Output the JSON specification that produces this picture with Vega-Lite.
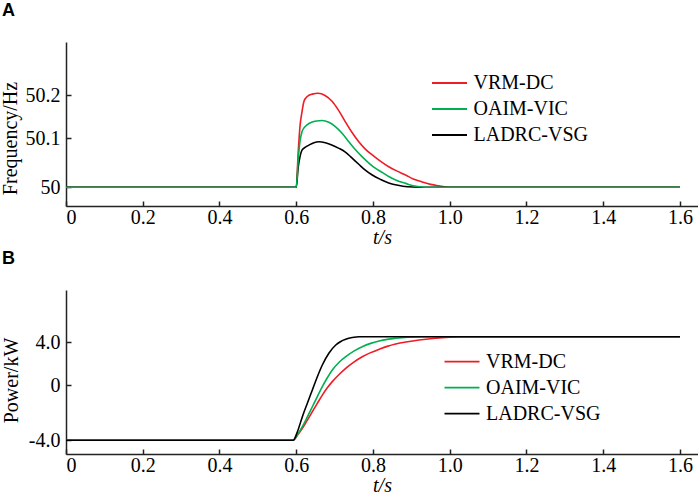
{
  "$schema": "https://vega.github.io/schema/vega-lite/v6.json",
  "description": "Frequency and power response of three VSG control methods",
  "background": "white",
  "padding": {"top": 2, "left": 0, "right": 0, "bottom": 0},
  "bounds": "flush",
  "spacing": 84,
  "datasets": {
    "freq": [
      {"t": 0, "f": 50, "method": "VRM-DC"},
      {"t": 0.6, "f": 50, "method": "VRM-DC"},
      {"t": 0.605, "f": 50.07, "method": "VRM-DC"},
      {"t": 0.61, "f": 50.13, "method": "VRM-DC"},
      {"t": 0.615, "f": 50.161, "method": "VRM-DC"},
      {"t": 0.62, "f": 50.185, "method": "VRM-DC"},
      {"t": 0.628, "f": 50.196, "method": "VRM-DC"},
      {"t": 0.642, "f": 50.202, "method": "VRM-DC"},
      {"t": 0.657, "f": 50.204, "method": "VRM-DC"},
      {"t": 0.675, "f": 50.199, "method": "VRM-DC"},
      {"t": 0.694, "f": 50.185, "method": "VRM-DC"},
      {"t": 0.71, "f": 50.165, "method": "VRM-DC"},
      {"t": 0.728, "f": 50.138, "method": "VRM-DC"},
      {"t": 0.745, "f": 50.114, "method": "VRM-DC"},
      {"t": 0.763, "f": 50.093, "method": "VRM-DC"},
      {"t": 0.78, "f": 50.078, "method": "VRM-DC"},
      {"t": 0.798, "f": 50.066, "method": "VRM-DC"},
      {"t": 0.82, "f": 50.053, "method": "VRM-DC"},
      {"t": 0.841, "f": 50.042, "method": "VRM-DC"},
      {"t": 0.863, "f": 50.033, "method": "VRM-DC"},
      {"t": 0.885, "f": 50.025, "method": "VRM-DC"},
      {"t": 0.905, "f": 50.017, "method": "VRM-DC"},
      {"t": 0.928, "f": 50.011, "method": "VRM-DC"},
      {"t": 0.95, "f": 50.006, "method": "VRM-DC"},
      {"t": 0.971, "f": 50.003, "method": "VRM-DC"},
      {"t": 1.0, "f": 50, "method": "VRM-DC"},
      {"t": 1.6, "f": 50, "method": "VRM-DC"},
      {"t": 0, "f": 50, "method": "LADRC-VSG"},
      {"t": 0.6, "f": 50, "method": "LADRC-VSG"},
      {"t": 0.605, "f": 50.04, "method": "LADRC-VSG"},
      {"t": 0.61, "f": 50.063, "method": "LADRC-VSG"},
      {"t": 0.615, "f": 50.076, "method": "LADRC-VSG"},
      {"t": 0.624, "f": 50.082, "method": "LADRC-VSG"},
      {"t": 0.633, "f": 50.086, "method": "LADRC-VSG"},
      {"t": 0.646, "f": 50.091, "method": "LADRC-VSG"},
      {"t": 0.659, "f": 50.093, "method": "LADRC-VSG"},
      {"t": 0.676, "f": 50.091, "method": "LADRC-VSG"},
      {"t": 0.694, "f": 50.086, "method": "LADRC-VSG"},
      {"t": 0.71, "f": 50.08, "method": "LADRC-VSG"},
      {"t": 0.728, "f": 50.072, "method": "LADRC-VSG"},
      {"t": 0.745, "f": 50.06, "method": "LADRC-VSG"},
      {"t": 0.763, "f": 50.047, "method": "LADRC-VSG"},
      {"t": 0.78, "f": 50.035, "method": "LADRC-VSG"},
      {"t": 0.798, "f": 50.025, "method": "LADRC-VSG"},
      {"t": 0.82, "f": 50.016, "method": "LADRC-VSG"},
      {"t": 0.841, "f": 50.009, "method": "LADRC-VSG"},
      {"t": 0.865, "f": 50.004, "method": "LADRC-VSG"},
      {"t": 0.89, "f": 50.001, "method": "LADRC-VSG"},
      {"t": 0.92, "f": 50, "method": "LADRC-VSG"},
      {"t": 1.6, "f": 50, "method": "LADRC-VSG"},
      {"t": 0, "f": 50, "method": "OAIM-VIC"},
      {"t": 0.6, "f": 50, "method": "OAIM-VIC"},
      {"t": 0.605, "f": 50.055, "method": "OAIM-VIC"},
      {"t": 0.61, "f": 50.095, "method": "OAIM-VIC"},
      {"t": 0.615, "f": 50.115, "method": "OAIM-VIC"},
      {"t": 0.621, "f": 50.125, "method": "OAIM-VIC"},
      {"t": 0.628, "f": 50.131, "method": "OAIM-VIC"},
      {"t": 0.64, "f": 50.137, "method": "OAIM-VIC"},
      {"t": 0.653, "f": 50.14, "method": "OAIM-VIC"},
      {"t": 0.667, "f": 50.141, "method": "OAIM-VIC"},
      {"t": 0.685, "f": 50.137, "method": "OAIM-VIC"},
      {"t": 0.702, "f": 50.127, "method": "OAIM-VIC"},
      {"t": 0.72, "f": 50.111, "method": "OAIM-VIC"},
      {"t": 0.737, "f": 50.093, "method": "OAIM-VIC"},
      {"t": 0.755, "f": 50.076, "method": "OAIM-VIC"},
      {"t": 0.772, "f": 50.062, "method": "OAIM-VIC"},
      {"t": 0.79, "f": 50.049, "method": "OAIM-VIC"},
      {"t": 0.806, "f": 50.039, "method": "OAIM-VIC"},
      {"t": 0.825, "f": 50.03, "method": "OAIM-VIC"},
      {"t": 0.841, "f": 50.022, "method": "OAIM-VIC"},
      {"t": 0.862, "f": 50.014, "method": "OAIM-VIC"},
      {"t": 0.885, "f": 50.008, "method": "OAIM-VIC"},
      {"t": 0.905, "f": 50.003, "method": "OAIM-VIC"},
      {"t": 0.935, "f": 50, "method": "OAIM-VIC"},
      {"t": 1.6, "f": 50, "method": "OAIM-VIC"}
    ],
    "power": [
      {"t": 0, "p": -4, "method": "VRM-DC"},
      {"t": 0.592, "p": -4, "method": "VRM-DC"},
      {"t": 0.604, "p": -3.6, "method": "VRM-DC"},
      {"t": 0.616, "p": -3.13, "method": "VRM-DC"},
      {"t": 0.629, "p": -2.53, "method": "VRM-DC"},
      {"t": 0.642, "p": -1.92, "method": "VRM-DC"},
      {"t": 0.655, "p": -1.31, "method": "VRM-DC"},
      {"t": 0.668, "p": -0.71, "method": "VRM-DC"},
      {"t": 0.681, "p": -0.18, "method": "VRM-DC"},
      {"t": 0.694, "p": 0.34, "method": "VRM-DC"},
      {"t": 0.711, "p": 0.98, "method": "VRM-DC"},
      {"t": 0.729, "p": 1.58, "method": "VRM-DC"},
      {"t": 0.75, "p": 2.16, "method": "VRM-DC"},
      {"t": 0.772, "p": 2.66, "method": "VRM-DC"},
      {"t": 0.794, "p": 3.04, "method": "VRM-DC"},
      {"t": 0.816, "p": 3.35, "method": "VRM-DC"},
      {"t": 0.837, "p": 3.62, "method": "VRM-DC"},
      {"t": 0.859, "p": 3.84, "method": "VRM-DC"},
      {"t": 0.89, "p": 4.05, "method": "VRM-DC"},
      {"t": 0.92, "p": 4.21, "method": "VRM-DC"},
      {"t": 0.955, "p": 4.36, "method": "VRM-DC"},
      {"t": 0.989, "p": 4.46, "method": "VRM-DC"},
      {"t": 1.03, "p": 4.52, "method": "VRM-DC"},
      {"t": 1.6, "p": 4.52, "method": "VRM-DC"},
      {"t": 0, "p": -4, "method": "OAIM-VIC"},
      {"t": 0.592, "p": -4, "method": "OAIM-VIC"},
      {"t": 0.604, "p": -3.55, "method": "OAIM-VIC"},
      {"t": 0.616, "p": -3.01, "method": "OAIM-VIC"},
      {"t": 0.629, "p": -2.3, "method": "OAIM-VIC"},
      {"t": 0.642, "p": -1.56, "method": "OAIM-VIC"},
      {"t": 0.655, "p": -0.82, "method": "OAIM-VIC"},
      {"t": 0.668, "p": -0.1, "method": "OAIM-VIC"},
      {"t": 0.681, "p": 0.7, "method": "OAIM-VIC"},
      {"t": 0.694, "p": 1.42, "method": "OAIM-VIC"},
      {"t": 0.711, "p": 2.12, "method": "OAIM-VIC"},
      {"t": 0.729, "p": 2.66, "method": "OAIM-VIC"},
      {"t": 0.75, "p": 3.18, "method": "OAIM-VIC"},
      {"t": 0.772, "p": 3.59, "method": "OAIM-VIC"},
      {"t": 0.794, "p": 3.9, "method": "OAIM-VIC"},
      {"t": 0.816, "p": 4.12, "method": "OAIM-VIC"},
      {"t": 0.837, "p": 4.27, "method": "OAIM-VIC"},
      {"t": 0.859, "p": 4.37, "method": "OAIM-VIC"},
      {"t": 0.89, "p": 4.47, "method": "OAIM-VIC"},
      {"t": 0.93, "p": 4.52, "method": "OAIM-VIC"},
      {"t": 1.6, "p": 4.52, "method": "OAIM-VIC"},
      {"t": 0, "p": -4, "method": "LADRC-VSG"},
      {"t": 0.592, "p": -4, "method": "LADRC-VSG"},
      {"t": 0.604, "p": -3.3, "method": "LADRC-VSG"},
      {"t": 0.616, "p": -2.28, "method": "LADRC-VSG"},
      {"t": 0.629, "p": -1.3, "method": "LADRC-VSG"},
      {"t": 0.642, "p": -0.34, "method": "LADRC-VSG"},
      {"t": 0.655, "p": 0.8, "method": "LADRC-VSG"},
      {"t": 0.668, "p": 1.89, "method": "LADRC-VSG"},
      {"t": 0.685, "p": 2.98, "method": "LADRC-VSG"},
      {"t": 0.703, "p": 3.75, "method": "LADRC-VSG"},
      {"t": 0.716, "p": 4.08, "method": "LADRC-VSG"},
      {"t": 0.729, "p": 4.28, "method": "LADRC-VSG"},
      {"t": 0.746, "p": 4.44, "method": "LADRC-VSG"},
      {"t": 0.764, "p": 4.52, "method": "LADRC-VSG"},
      {"t": 1.6, "p": 4.52, "method": "LADRC-VSG"}
    ]
  },
  "vconcat": [
    {
      "title": {"text": "A", "anchor": "start", "frame": "group", "dx": -64, "offset": 22, "font": "Liberation Sans", "fontSize": 18, "fontWeight": "bold", "color": "black"},
      "width": 632,
      "height": 164,
      "data": {"name": "freq"},
      "mark": {"type": "line", "strokeWidth": 1.6, "interpolate": "monotone"},
      "encoding": {
        "x": {
          "field": "t",
          "type": "quantitative",
          "title": "t/s",
          "scale": {"domain": [0, 1.647], "nice": false, "zero": false},
          "axis": {"values": [0, 0.2, 0.4, 0.6, 0.8, 1.0, 1.2, 1.4, 1.6], "labelExpr": "datum.value == 0 ? '0' : format(datum.value, '.1f')"}
        },
        "y": {
          "field": "f",
          "type": "quantitative",
          "title": "Frequency/Hz",
          "scale": {"domain": [49.962, 50, 50.1, 50.2, 50.322], "range": [164, 145.3, 96.3, 53, 0], "nice": false, "zero": false},
          "axis": {"values": [50, 50.1, 50.2], "labelExpr": "datum.value == 50 ? '50' : format(datum.value, '.1f')", "titleX": -46, "titleY": 96}
        },
        "color": {
          "field": "method",
          "type": "nominal",
          "scale": {"domain": ["VRM-DC", "OAIM-VIC", "LADRC-VSG"], "range": ["#ee1c24", "#00b050", "#000000"]},
          "legend": {"title": null, "legendX": 373.5, "legendY": 31}
        }
      }
    },
    {
      "title": {"text": "B", "anchor": "start", "frame": "group", "dx": -64, "offset": 22, "font": "Liberation Sans", "fontSize": 18, "fontWeight": "bold", "color": "black"},
      "width": 632,
      "height": 164,
      "data": {"name": "power"},
      "mark": {"type": "line", "strokeWidth": 1.6, "interpolate": "monotone"},
      "encoding": {
        "x": {
          "field": "t",
          "type": "quantitative",
          "title": "t/s",
          "scale": {"domain": [0, 1.647], "nice": false, "zero": false},
          "axis": {"values": [0, 0.2, 0.4, 0.6, 0.8, 1.0, 1.2, 1.4, 1.6], "labelExpr": "datum.value == 0 ? '0' : format(datum.value, '.1f')"}
        },
        "y": {
          "field": "p",
          "type": "quantitative",
          "title": "Power/kW",
          "scale": {"domain": [-5, -4, 0, 4, 8.87], "range": [164, 150.3, 95.3, 52.3, 0], "nice": false, "zero": false},
          "axis": {"values": [-4, 0, 4], "labelExpr": "datum.value == 0 ? '0' : replace(format(datum.value, '.1f'), '\u2212', '-')", "titleX": -45, "titleY": 90}
        },
        "color": {
          "field": "method",
          "type": "nominal",
          "scale": {"domain": ["VRM-DC", "OAIM-VIC", "LADRC-VSG"], "range": ["#ee1c24", "#00b050", "#000000"]},
          "legend": {"title": null, "legendX": 386, "legendY": 61.7}
        }
      }
    }
  ],
  "resolve": {
    "scale": {"x": "independent", "y": "independent", "color": "independent"},
    "legend": {"color": "independent"}
  },
  "config": {
    "view": {"stroke": null},
    "font": "Liberation Serif",
    "axis": {
      "grid": false,
      "domainColor": "#222222",
      "domainWidth": 1.5,
      "tickColor": "#222222",
      "tickWidth": 1.5,
      "tickSize": -5,
      "labelFont": "Liberation Serif",
      "labelFontSize": 20,
      "labelColor": "black",
      "titleFont": "Liberation Serif",
      "titleFontSize": 20,
      "titleFontWeight": "normal",
      "titleColor": "black"
    },
    "axisX": {"labelPadding": 6, "titlePadding": 0, "titleFontStyle": "italic"},
    "axisY": {"labelPadding": 11},
    "legend": {
      "orient": "none",
      "symbolType": "M-2,0H2",
      "symbolSize": 306,
      "symbolStrokeWidth": 1.8,
      "labelFont": "Liberation Serif",
      "labelFontSize": 20,
      "labelColor": "black",
      "labelOffset": 14,
      "rowPadding": 6,
      "padding": 0
    }
  }
}
